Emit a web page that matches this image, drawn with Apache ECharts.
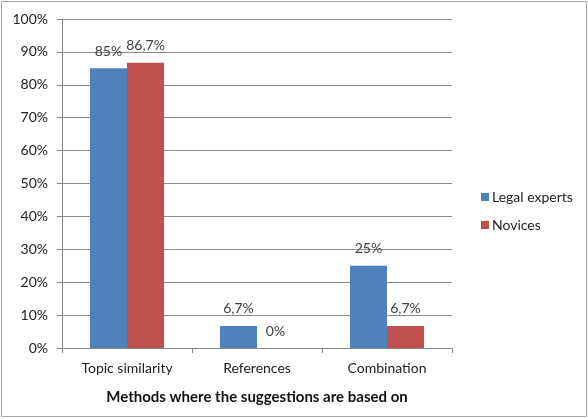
<!DOCTYPE html>
<html>
<head>
<meta charset="utf-8">
<script src="https://cdn.jsdelivr.net/npm/echarts@6/dist/echarts.min.js"></script>
<style>
html, body { margin: 0; padding: 0; background: #fff; }
#chart { width: 588px; height: 419px; }
</style>
</head>
<body>
<div id="chart"></div>
<script>
var categories = ['Topic similarity', 'References', 'Combination'];
var legalExperts = [85, 6.7, 25];
var novices = [86.7, 0, 6.7];
var yTicks = [0, 10, 20, 30, 40, 50, 60, 70, 80, 90, 100];

function pct(v) {
	return String(v).replace('.', ',') + '%';
}

var chart = echarts.init(document.getElementById('chart'));
var labelStyle = {
	show : true,
	position : 'top',
	distance : 10,
	color : '#404040',
	fontSize : 14,
	fontFamily : 'Lato',
	formatter : function(p) { return pct(p.value); }
};

chart.setOption({
	animation : false,
	textStyle : { fontFamily : 'Lato' },
	graphic : [ {
		type : 'rect',
		shape : { x : 1.5, y : 1.5, width : 585, height : 415 },
		style : { fill : 'none', stroke : '#a6a6a6', lineWidth : 1 }
	} ],
	grid : { left : 62, right : 136, top : 19, bottom : 71, containLabel : false },
	legend : {
		orient : 'vertical',
		left : 476,
		top : 185,
		itemWidth : 8,
		itemHeight : 8,
		itemGap : 14,
		icon : 'rect',
		textStyle : { fontSize : 14, color : '#222', fontFamily : 'Lato', padding : [0, 0, 0, -2] },
		data : [ 'Legal experts', 'Novices' ]
	},
	xAxis : {
		type : 'category',
		data : categories,
		name : 'Methods where the suggestions are based on',
		nameLocation : 'middle',
		nameGap : 42,
		nameTextStyle : { fontWeight : 'bold', fontSize : 15, color : '#111', fontFamily : 'Lato' },
		axisLine : { lineStyle : { color : '#868686' } },
		axisTick : { show : true, length : 5, alignWithLabel : false, lineStyle : { color : '#868686' } },
		axisLabel : { color : '#222', fontSize : 14, margin : 13 }
	},
	yAxis : {
		type : 'value',
		min : 0,
		max : 100,
		interval : 10,
		axisLine : { show : true, lineStyle : { color : '#868686' } },
		axisTick : { show : true, length : 5, lineStyle : { color : '#868686' } },
		splitLine : { lineStyle : { color : '#8c8c8c' } },
		axisLabel : {
			color : '#222',
			fontSize : 14,
			margin : 14,
			formatter : function(v) { return yTicks.indexOf(v) >= 0 ? v + '%' : ''; }
		}
	},
	series : [ {
		name : 'Legal experts',
		type : 'bar',
		data : legalExperts,
		barWidth : '28.5%',
		barGap : '0%',
		itemStyle : { color : '#4f81bd' },
		label : labelStyle
	}, {
		name : 'Novices',
		type : 'bar',
		data : novices,
		barWidth : '28.5%',
		itemStyle : { color : '#c0504d' },
		label : labelStyle
	} ]
});
</script>
</body>
</html>
